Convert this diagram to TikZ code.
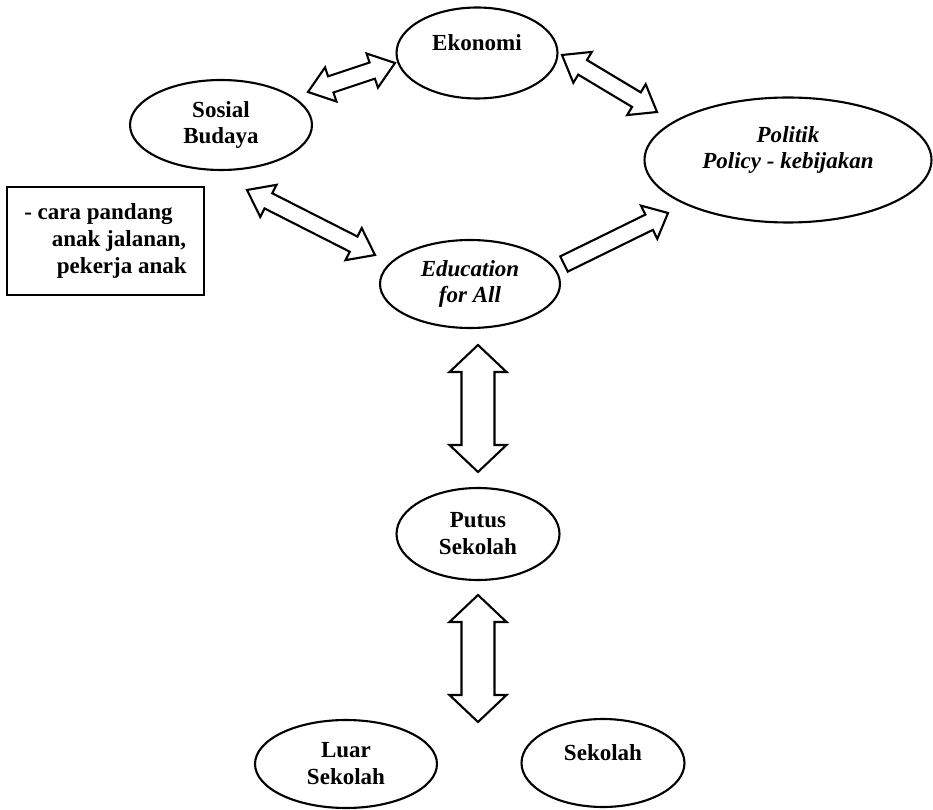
\documentclass[tikz,border=0pt]{standalone}
\usepackage{fontspec}
\setmainfont{Liberation Serif}
\usetikzlibrary{shapes.geometric,calc}

\newcommand{\bubblefont}{\fontsize{13.1}{15.3}\selectfont\bfseries}

\tikzset{
	bubble/.style={draw, ellipse, line width=1.2pt, inner sep=0pt, align=center, font=\bubblefont},
	slanted/.style={font=\bubblefont\itshape},
	lift/.style={text depth=#1},
	note/.style={draw, rectangle, line width=1.5pt, inner sep=0pt, align=left, font=\bubblefont},
	blockline/.style={draw, line width=1.2pt, line join=miter, fill=white}
}

\newcommand{\dblarrow}[5]{%
	\coordinate (p) at ($(#1)!#5!(#2)$);
	\coordinate (q) at ($(#2)!#5!(#1)$);
	\draw[blockline] (#1) -- ($(p)!#4!90:(#2)$) -- ($(p)!#3!90:(#2)$) -- ($(q)!#3!90:(#2)$)
		-- ($(q)!#4!90:(#2)$) -- (#2) -- ($(q)!#4!-90:(#2)$) -- ($(q)!#3!-90:(#2)$)
		-- ($(p)!#3!-90:(#2)$) -- ($(p)!#4!-90:(#2)$) -- cycle;
}

\newcommand{\sglarrow}[5]{%
	\coordinate (p) at ($(#2)!#5!(#1)$);
	\draw[blockline] ($(#1)!#3!90:(#2)$) -- ($(p)!#3!90:(#2)$) -- ($(p)!#4!90:(#2)$) -- (#2)
		-- ($(p)!#4!-90:(#2)$) -- ($(p)!#3!-90:(#2)$) -- ($(#1)!#3!-90:(#2)$) -- cycle;
}

\begin{document}
\begin{tikzpicture}[x=0.02cm, y=-0.02cm]
	\useasboundingbox (0,0) rectangle (933,810);

	\node[bubble, lift=0.4cm, minimum width=3.22cm, minimum height=1.82cm] (ekonomi) at (477,53) {Ekonomi};
	\node[bubble, minimum width=3.64cm, minimum height=1.8cm] (sosial) at (221,125) {Sosial\\Budaya};
	\node[bubble, slanted, lift=0.5cm, minimum width=5.74cm, minimum height=2.5cm] (politik) at (788,160) {Politik\\Policy - kebijakan};
	\node[bubble, slanted, minimum width=3.6cm, minimum height=1.76cm] (efa) at (470,284) {Education\\for All};
	\node[bubble, minimum width=3.26cm, minimum height=1.84cm] (putus) at (478,534) {Putus\\Sekolah};
	\node[bubble, minimum width=3.64cm, minimum height=1.76cm] (luar) at (346,764) {Luar\\Sekolah};
	\node[bubble, lift=0.4cm, minimum width=3.26cm, minimum height=1.76cm] (sekolah) at (603,763) {Sekolah};
	\node[note, minimum width=3.94cm, minimum height=2.16cm] (pandang) at (105.5,241)
		{- cara pandang\\\hspace*{1.2em}anak jalanan,\\\hspace*{1.42em}pekerja anak};

	\coordinate (se1) at (308,92);
	\coordinate (se2) at (395,63);
	\coordinate (ep1) at (562,55);
	\coordinate (ep2) at (657,112);
	\coordinate (sd1) at (247,190);
	\coordinate (sd2) at (375,255);
	\coordinate (dp1) at (564,264);
	\coordinate (dp2) at (668,213);
	\coordinate (du1) at (478,345);
	\coordinate (du2) at (478,472);
	\coordinate (pu1) at (478,595);
	\coordinate (pu2) at (478,722);

	\foreach \from/\to in {se1/se2, ep1/ep2, sd1/sd2}
		\dblarrow{\from}{\to}{0.17cm}{0.36cm}{0.48cm};
	\sglarrow{dp1}{dp2}{0.17cm}{0.37cm}{0.42cm}
	\foreach \from/\to in {du1/du2, pu1/pu2}
		\dblarrow{\from}{\to}{0.33cm}{0.57cm}{0.54cm};
\end{tikzpicture}
\end{document}
